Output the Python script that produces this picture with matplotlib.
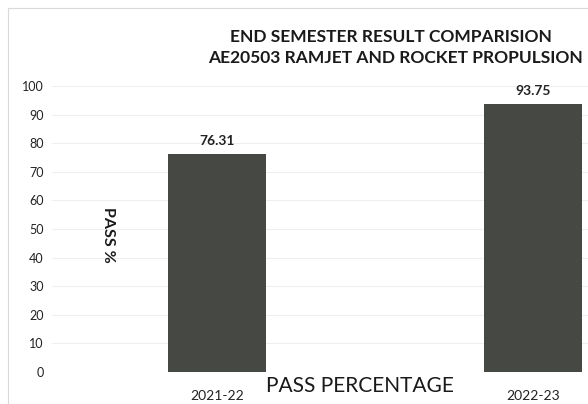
import matplotlib.pyplot as plt
from matplotlib.lines import Line2D

years = ["2021-22", "2022-23"]
pass_pct = [76.31, 93.75]
yticks = list(range(0, 101, 10))

W, H = 588, 404
plt.rcParams['font.family'] = ['Lato', 'DejaVu Sans']

fig = plt.figure(figsize=(W / 100, H / 100), dpi=100)


def fx(px):
    return px / W


def fy(py):
    return 1 - py / H


# chart border (faint, like the scanned excel frame)
fig.add_artist(Line2D([fx(8), fx(588)], [fy(8), fy(8)], color='#d9d9d9', lw=0.8))
fig.add_artist(Line2D([fx(8), fx(8)], [fy(8), fy(404)], color='#d9d9d9', lw=0.8))

ax_left, ax_right = 52, 588
ax_top, ax_bot = 86, 372
ax = fig.add_axes([fx(ax_left), fy(ax_bot), fx(ax_right - ax_left), (ax_bot - ax_top) / H])

x0, x1 = 217, 533
unit = x1 - x0
ax.set_xlim((ax_left - x0) / unit, (ax_right - x0) / unit)
ax.set_ylim(0, 100)

bars = ax.bar(range(len(years)), pass_pct, width=0.31, color='#454843', zorder=2)

ax.set_yticks(yticks)
ax.set_yticklabels([str(t) for t in yticks], fontsize=9, color='#222222')
ax.set_xticks(range(len(years)))
ax.set_xticklabels(years, fontsize=10, color='#222222')
ax.tick_params(axis='both', length=0)
ax.tick_params(axis='y', pad=6)
ax.tick_params(axis='x', pad=13)
ax.grid(axis='y', color='#efefef', lw=0.8, zorder=0)
for s in ax.spines.values():
    s.set_visible(False)

for i, v in enumerate(pass_pct):
    ax.text(i, v + 4.5, "{:.2f}".format(v), ha='center', va='center',
            fontsize=10, fontweight='bold', color='#222222')

fig.text(fx(391), fy(37), "END SEMESTER RESULT COMPARISION", ha='center', va='center',
         fontsize=12.5, fontweight='bold', color='#1a1a1a')
fig.text(fx(395), fy(58), "AE20503 RAMJET AND ROCKET PROPULSION", ha='center', va='center',
         fontsize=12.5, fontweight='bold', color='#1a1a1a')

fig.text(fx(108), fy(235), "PASS %", rotation=-90, ha='center', va='center',
         fontsize=11.5, fontweight='bold', color='#1a1a1a')
fig.text(fx(360), fy(386), "PASS PERCENTAGE", ha='center', va='center',
         fontsize=15, color='#1a1a1a')

fig.savefig("out.png", dpi=100)
